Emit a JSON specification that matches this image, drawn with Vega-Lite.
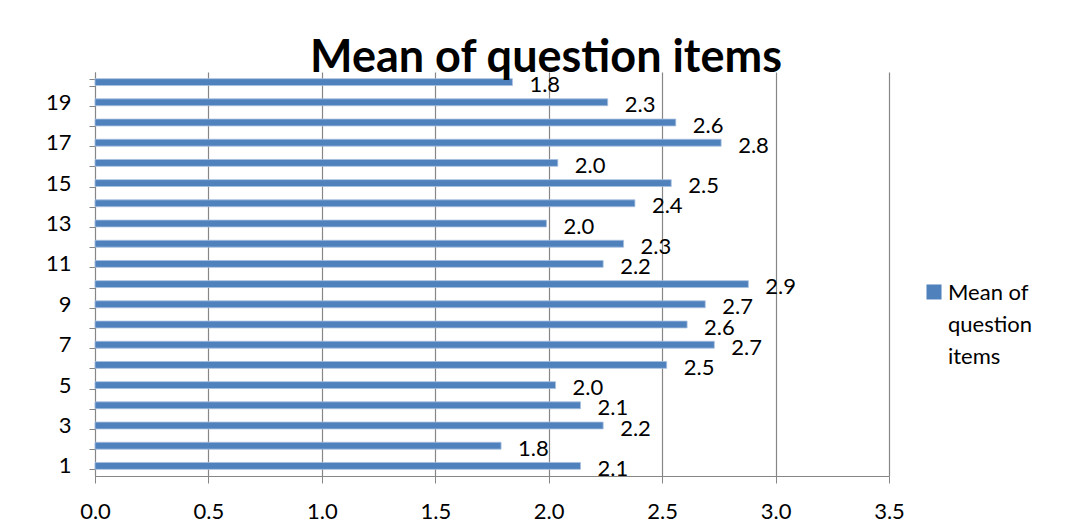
{
  "$schema": "https://vega.github.io/schema/vega-lite/v6.json",
  "autosize": "none",
  "width": 794,
  "height": 404,
  "padding": {"left": 95, "top": 72, "right": 183, "bottom": 51},
  "background": "white",
  "title": {
    "text": "Mean of question items",
    "font": "Lato",
    "fontSize": 45,
    "fontWeight": "bold",
    "color": "#000000",
    "anchor": "middle",
    "frame": "group",
    "baseline": "alphabetic",
    "offset": -56,
    "dx": 54
  },
  "data": {
    "values": [
      {"item": 1, "mean": 2.14},
      {"item": 2, "mean": 1.79},
      {"item": 3, "mean": 2.24},
      {"item": 4, "mean": 2.14},
      {"item": 5, "mean": 2.03},
      {"item": 6, "mean": 2.52},
      {"item": 7, "mean": 2.73},
      {"item": 8, "mean": 2.61},
      {"item": 9, "mean": 2.69},
      {"item": 10, "mean": 2.88},
      {"item": 11, "mean": 2.24},
      {"item": 12, "mean": 2.33},
      {"item": 13, "mean": 1.99},
      {"item": 14, "mean": 2.38},
      {"item": 15, "mean": 2.54},
      {"item": 16, "mean": 2.04},
      {"item": 17, "mean": 2.76},
      {"item": 18, "mean": 2.56},
      {"item": 19, "mean": 2.26},
      {"item": 20, "mean": 1.84}
    ]
  },
  "encoding": {
    "y": {
      "field": "item",
      "type": "ordinal",
      "sort": "descending",
      "scale": {"paddingInner": 0.66, "paddingOuter": 0.33},
      "axis": {
        "title": null,
        "tickBand": "extent",
        "labelExpr": "datum.value % 2 == 1 ? datum.label : ''",
        "domainColor": "#868686",
        "tickColor": "#868686",
        "tickSize": 6,
        "labelPadding": 18,
        "labelFont": "Lato",
        "labelFontSize": 22,
        "labelColor": "#000000",
        "grid": false
      }
    },
    "x": {
      "field": "mean",
      "type": "quantitative",
      "scale": {"domain": [0, 3.5], "nice": false, "zero": true},
      "axis": {
        "title": null,
        "values": [0, 0.5, 1, 1.5, 2, 2.5, 3, 3.5],
        "format": ".1f",
        "grid": true,
        "gridColor": "#868686",
        "gridWidth": 1.2,
        "domainColor": "#868686",
        "tickColor": "#868686",
        "tickSize": 7,
        "labelPadding": 18,
        "labelFont": "Lato",
        "labelFontSize": 22,
        "labelColor": "#000000",
        "labelFlush": false
      }
    }
  },
  "layer": [
    {
      "mark": {"type": "bar", "stroke": "#A7BFDE", "strokeWidth": 0.8},
      "encoding": {
        "color": {
          "datum": "Mean of question items",
          "scale": {"range": ["#4F81BD"]},
          "legend": {
            "title": null,
            "orient": "none",
            "legendX": 828,
            "legendY": 217,
            "padding": 0,
            "symbolType": "M-1,-2.07H1V-0.07H-1Z",
            "symbolSize": 225,
            "symbolStrokeWidth": 0,
            "labelOffset": 3,
            "labelFont": "Lato",
            "labelFontSize": 22,
            "labelColor": "#000000",
            "labelBaseline": "alphabetic",
            "labelLimit": 300,
            "labelExpr": "['Mean of', 'question', 'items']"
          }
        }
      }
    },
    {
      "mark": {
        "type": "text",
        "align": "left",
        "baseline": "middle",
        "dx": 17,
        "dy": 3,
        "font": "Lato",
        "fontSize": 22,
        "color": "#000000"
      },
      "encoding": {
        "text": {"field": "mean", "type": "quantitative", "format": ".1f"}
      }
    }
  ],
  "config": {
    "view": {"stroke": null},
    "style": {"guide-label": {"lineHeight": 32}}
  }
}
